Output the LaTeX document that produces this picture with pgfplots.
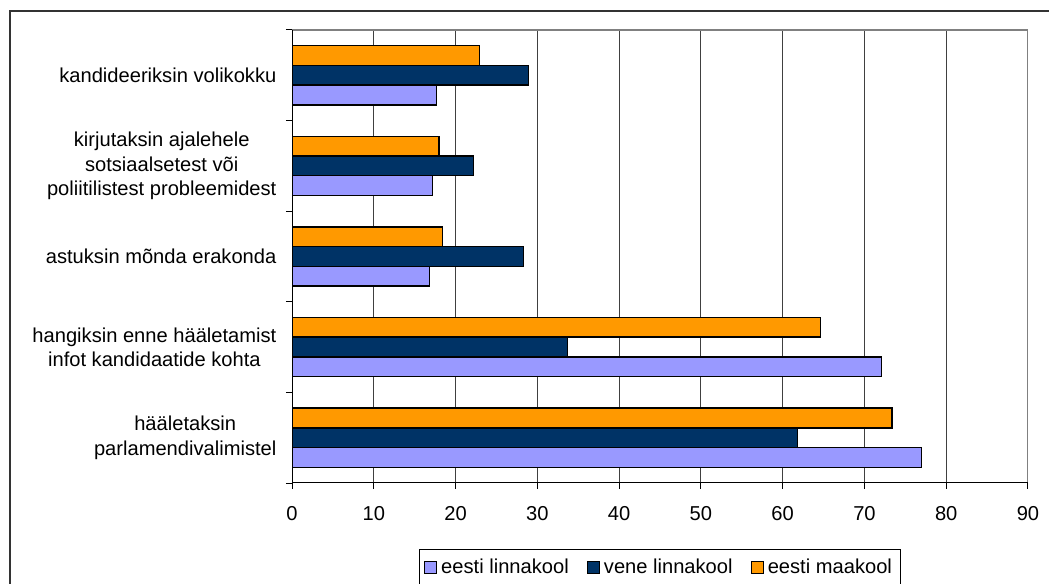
\documentclass[border=0pt]{standalone}
\usepackage{fontspec}
\setmainfont{Liberation Sans}
\usepackage{pgfplots}
\pgfplotsset{compat=1.18}
\definecolor{lin}{HTML}{9999FF}
\definecolor{ven}{HTML}{003366}
\definecolor{maa}{HTML}{FF9900}
\begin{document}
\begin{tikzpicture}
\useasboundingbox (0,0) rectangle (524.5bp,292bp);
\fill[white] (0,0) rectangle (524.5bp,292bp);
\draw[line width=1bp, black!80] (5bp,-2bp) -- (5bp,286.5bp) -- (526bp,286.5bp);
\begin{axis}[
  at={(146bp,50.5bp)}, anchor=south west,
  scale only axis, width=368bp, height=226.5bp,
  xmin=0, xmax=90, ymin=-0.5, ymax=4.5,
  xtick={0,10,...,90},
  ytick={0,1,2,3,4},
  yticklabels={{hääletaksin\\parlamendivalimistel},{hangiksin enne hääletamist\\infot kandidaatide kohta},{astuksin mõnda erakonda},{kirjutaksin ajalehele\\sotsiaalsetest või\\poliitilistest probleemidest},{kandideeriksin volikokku}},
  minor ytick={-0.5,0.5,1.5,2.5,3.5,4.5},
  every major y tick/.append style={draw=none},
  major tick length=3bp, minor tick length=3bp,
  tick align=outside,
  xtick pos=bottom, ytick pos=left,
  tick style={black, line width=0.5bp},
  axis line style={draw=none},
  xmajorgrids, ymajorgrids=false,
  major grid style={black!75, line width=0.5bp},
  /pgf/number format/assume math mode=true,
  ticklabel style={font=\fontsize{10.1}{12.25}\selectfont},
  xticklabel style={yshift=-5bp},
  yticklabel style={align=center, xshift=-1.3bp},
  legend columns=3,
  legend style={at={(0.5,-0.1457)}, anchor=north, draw=black, line width=0.5bp,
    font=\fontsize{10.1}{12}\selectfont, inner xsep=2.5bp, inner ysep=2.5bp,
    /tikz/every even column/.append style={column sep=7bp}},
  legend image code/.code={\draw[#1, draw=black, line width=0.6bp] (0bp,-3bp) rectangle (6bp,3bp);},
]
\addplot[xbar, bar width=9.85bp, bar shift=-9.85bp, fill=lin, draw=black, line width=0.75bp]
  coordinates {(77.0,0) (72.1,1) (16.8,2) (17.2,3) (17.7,4)};
\addlegendentry{eesti linnakool}
\addplot[xbar, bar width=9.85bp, bar shift=0bp, fill=ven, draw=black, line width=0.75bp]
  coordinates {(61.8,0) (33.7,1) (28.3,2) (22.2,3) (28.9,4)};
\addlegendentry{vene linnakool}
\addplot[xbar, bar width=9.85bp, bar shift=9.85bp, fill=maa, draw=black, line width=0.75bp]
  coordinates {(73.4,0) (64.6,1) (18.4,2) (18.0,3) (22.9,4)};
\addlegendentry{eesti maakool}
\draw[gray, line width=1.1bp] (rel axis cs:0,1) -- (rel axis cs:1,1) -- (rel axis cs:1,0);
\draw[black, line width=0.6bp] (rel axis cs:0,1) -- (rel axis cs:0,0) -- (rel axis cs:1,0);
\end{axis}
\end{tikzpicture}
\end{document}
